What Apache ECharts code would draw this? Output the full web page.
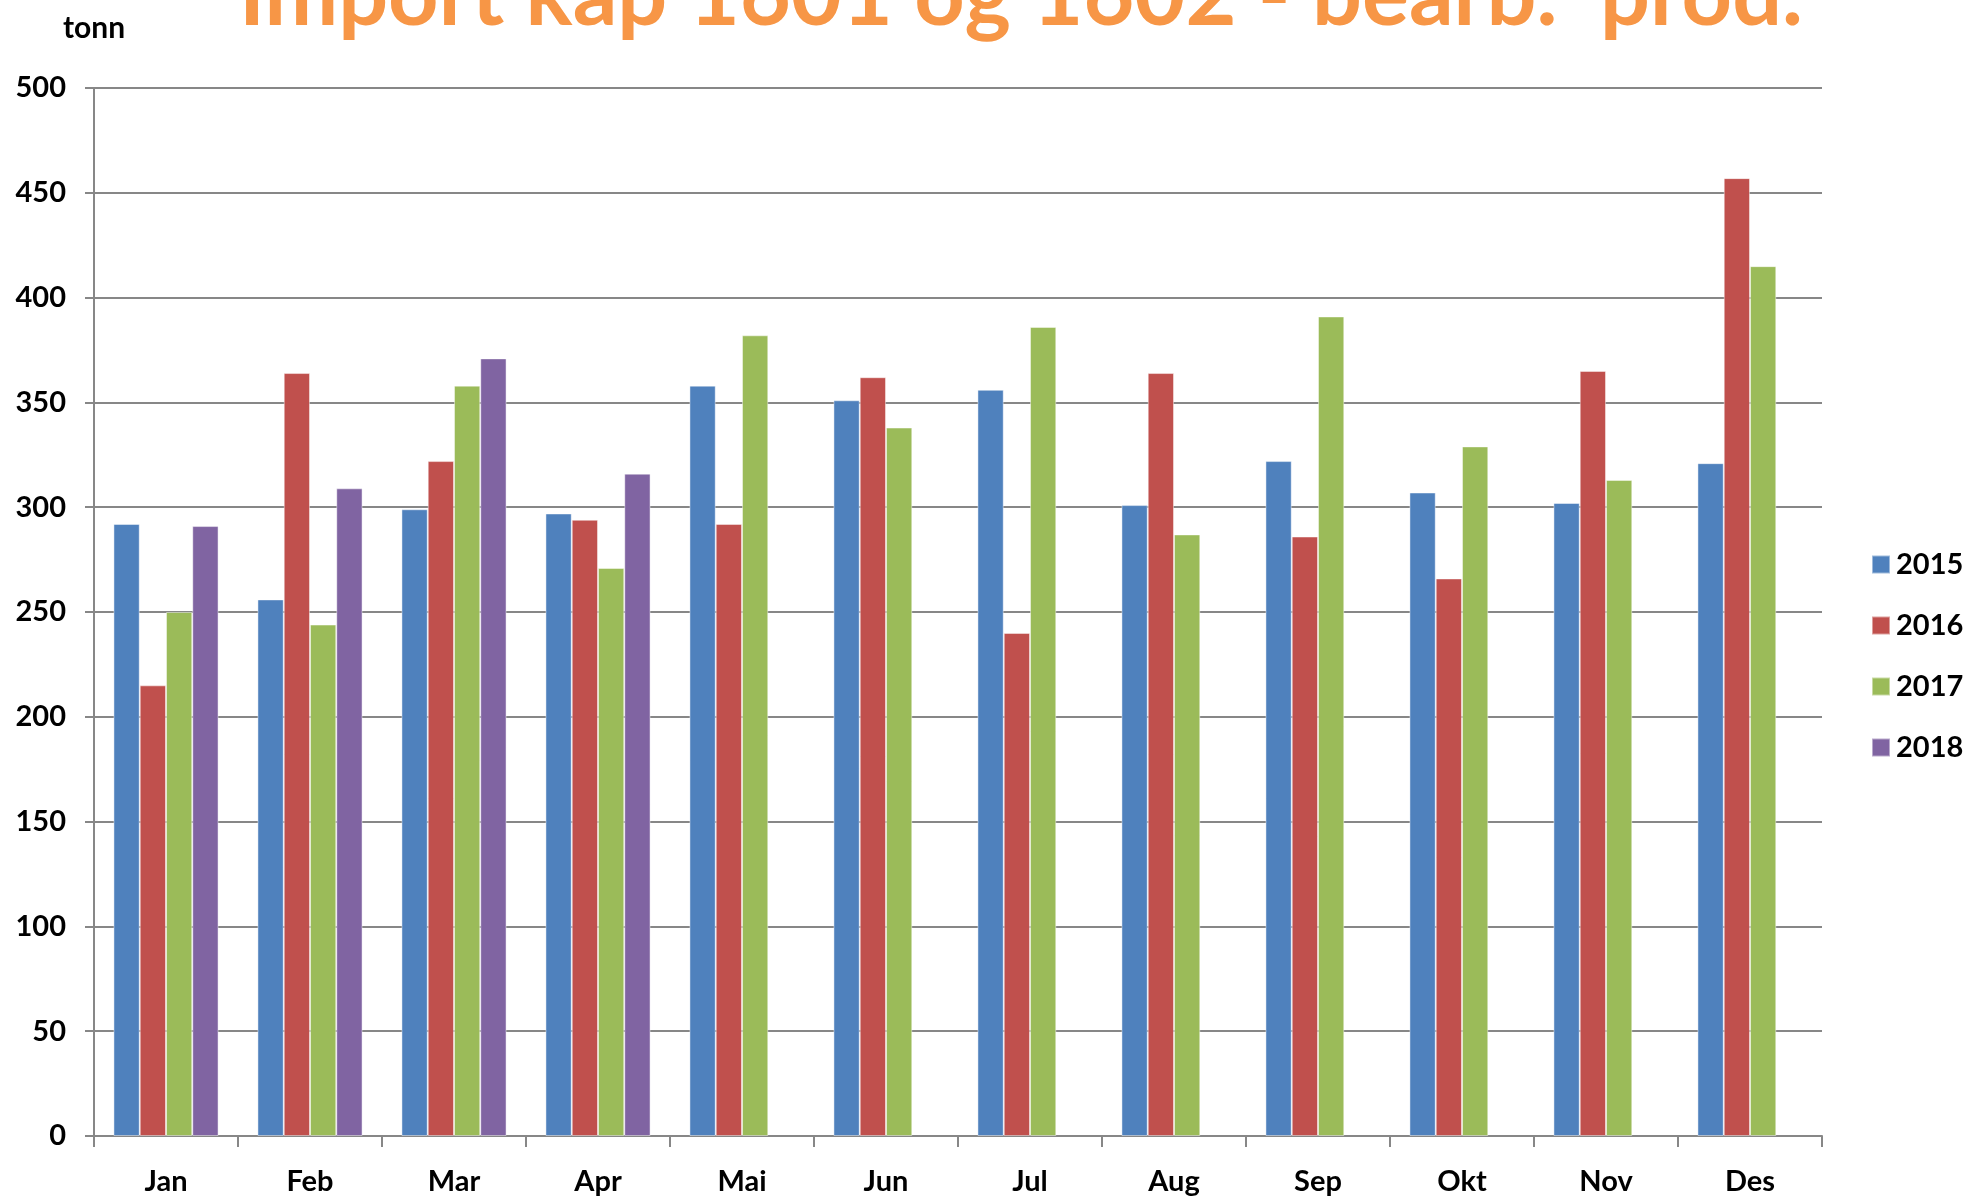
<!DOCTYPE html>
<html>
<head>
<meta charset="utf-8">
<script src="https://cdn.jsdelivr.net/npm/echarts@6/dist/echarts.min.js"></script>
<style>
  html, body { margin: 0; padding: 0; background: #fff; }
  #chart { width: 1973px; height: 1198px; }
</style>
</head>
<body>
<div id="chart"></div>
<script>
// måneder og tonn per år
var months = ['Jan', 'Feb', 'Mar', 'Apr', 'Mai', 'Jun', 'Jul', 'Aug', 'Sep', 'Okt', 'Nov', 'Des'];
var data2015 = [292, 256, 299, 297, 358, 351, 356, 301, 322, 307, 302, 321];
var data2016 = [215, 364, 322, 294, 292, 362, 240, 364, 286, 266, 365, 457];
var data2017 = [250, 244, 358, 271, 382, 338, 386, 287, 391, 329, 313, 415];
var data2018 = [291, 309, 371, 316, null, null, null, null, null, null, null, null];
var years = ['2015', '2016', '2017', '2018'];
var colors = ['#4F81BD', '#C0504D', '#9BBB59', '#8064A2'];

var font = 'Lato';
var gridColor = '#878787';

var myChart = echarts.init(document.getElementById('chart'));

function bar(name, values, color) {
  return {
    name: name,
    type: 'bar',
    data: values,
    barGap: 0,
    barCategoryGap: '27%',
    itemStyle: {
      color: color,
      borderColor: 'rgba(255,255,255,0.45)',
      borderWidth: 1
    }
  };
}

myChart.setOption({
  animation: false,
  color: colors,
  title: {
    text: 'Import kap 1601 og 1602 - bearb.  prod.',
    left: 239,
    top: -47,
    padding: 0,
    textStyle: {
      fontFamily: font,
      fontWeight: 'bold',
      fontSize: 88,
      color: '#F79646'
    }
  },
  legend: {
    orient: 'vertical',
    left: 1871,
    top: 550,
    itemWidth: 18,
    itemHeight: 18,
    itemGap: 32,
    icon: 'rect',
    padding: 0,
    textStyle: {
      fontFamily: font,
      fontWeight: 'bold',
      fontSize: 29,
      color: '#000',
      padding: [0, 0, 0, 1]
    },
    data: years
  },
  grid: {
    left: 94,
    right: 151,
    top: 88,
    bottom: 62,
    containLabel: false
  },
  xAxis: {
    type: 'category',
    data: months,
    axisLine: { lineStyle: { color: gridColor, width: 2 } },
    axisTick: { show: true, length: 11, lineStyle: { color: gridColor, width: 2 } },
    axisLabel: {
      margin: 31,
      fontFamily: font,
      fontWeight: 'bold',
      fontSize: 29,
      color: '#000'
    }
  },
  yAxis: {
    type: 'value',
    min: 0,
    max: 500,
    interval: 50,
    name: 'tonn',
    nameLocation: 'end',
    nameGap: 45,
    nameTextStyle: {
      fontFamily: font,
      fontWeight: 'bold',
      fontSize: 30,
      color: '#000',
      align: 'center'
    },
    axisLine: { show: true, lineStyle: { color: gridColor, width: 2 } },
    axisTick: { show: true, length: 9, lineStyle: { color: gridColor, width: 2 } },
    splitLine: { lineStyle: { color: gridColor, width: 2 } },
    axisLabel: {
      margin: 28,
      fontFamily: font,
      fontWeight: 'bold',
      fontSize: 29,
      color: '#000'
    }
  },
  series: [
    bar(years[0], data2015, colors[0]),
    bar(years[1], data2016, colors[1]),
    bar(years[2], data2017, colors[2]),
    bar(years[3], data2018, colors[3])
  ]
});
</script>
</body>
</html>
